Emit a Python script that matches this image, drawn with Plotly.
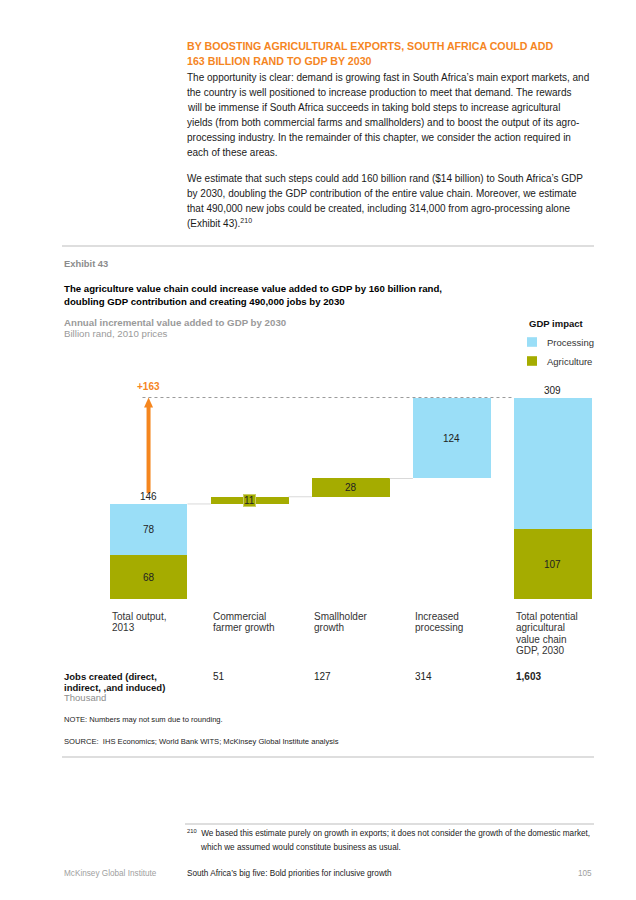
import plotly.graph_objects as go

# ---------------- data ----------------
categories = ["Total output,<br>2013", "Commercial<br>farmer growth", "Smallholder<br>growth",
              "Increased<br>processing", "Total potential<br>agricultural<br>value chain<br>GDP, 2030"]
agriculture = [68, 11, 28, 0]      # first four columns (start + increments)
processing = [78, 0, 0, 124]
jobs = ["", "51", "127", "314", "1,603"]
series_names = ["Processing", "Agriculture"]
legend_title = "GDP impact"

heading = ["BY BOOSTING AGRICULTURAL EXPORTS, SOUTH AFRICA COULD ADD",
           "163 BILLION RAND TO GDP BY 2030"]
body1 = ["The opportunity is clear: demand is growing fast in South Africa’s main export markets, and",
         "the country is well positioned to increase production to meet that demand. The rewards",
         "will be immense if South Africa succeeds in taking bold steps to increase agricultural",
         "yields (from both commercial farms and smallholders) and to boost the output of its agro-",
         "processing industry. In the remainder of this chapter, we consider the action required in",
         "each of these areas."]
body2 = ["We estimate that such steps could add 160 billion rand ($14 billion) to South Africa’s GDP",
         "by 2030, doubling the GDP contribution of the entire value chain. Moreover, we estimate",
         "that 490,000 new jobs could be created, including 314,000 from agro-processing alone",
         "(Exhibit 43).<sup>210</sup>"]
exhibit = "Exhibit 43"
title_lines = ["The agriculture value chain could increase value added to GDP by 160 billion rand,",
               "doubling GDP contribution and creating 490,000 jobs by 2030"]
subtitle = "Annual incremental value added to GDP by 2030"
unit = "Billion rand, 2010 prices"
jobs_label = ["Jobs created (direct,", "indirect, ,and induced)"]
jobs_unit = "Thousand"
note = "NOTE: Numbers may not sum due to rounding."
source = "SOURCE:  IHS Economics; World Bank WITS; McKinsey Global Institute analysis"
footnote = ["<sup>210</sup>  We based this estimate purely on growth in exports; it does not consider the growth of the domestic market,",
            "which we assumed would constitute business as usual."]
footer_left = "McKinsey Global Institute"
footer_mid = "South Africa’s big five: Bold priorities for inclusive growth"
footer_page = "105"

# ---------------- derived waterfall ----------------
start_total = agriculture[0] + processing[0]
end_agri = sum(agriculture)
end_proc = sum(processing)
end_total = end_agri + end_proc
uplift = end_total - start_total

agri_vals = agriculture + [end_agri]
proc_vals = processing + [end_proc]
agri_base, proc_base = [], []
level = 0
for i in range(4):
    if i == 0:
        agri_base.append(0)
        proc_base.append(agriculture[0])
        level = start_total
    else:
        agri_base.append(level)
        proc_base.append(level + agriculture[i])
        level += agriculture[i] + processing[i]
agri_base.append(0)
proc_base.append(end_agri)
steps = [start_total]
for i in range(1, 4):
    steps.append(steps[-1] + agriculture[i] + processing[i])

# page is drawn inside an 8px body margin
OFF = 8
W, H = 636 - OFF, 900 - OFF
def px(x, y):
    return (x - OFF) / W, 1 - (y - OFF) / H

AGRI = "#A5AC00"
PROC = "#9ADEF7"
ORANGE = "#F5861F"
GRAY = "#8C8C8C"
FONT = "Liberation Sans, Arial, sans-serif"
FS = 10
BW = 0.77

x = list(range(len(categories)))

def clean(vals):
    return [v if v else None for v in vals]

fig = go.Figure()
fig.add_trace(go.Bar(x=x, y=clean(proc_vals), base=proc_base, name=series_names[0],
                     marker=dict(color=PROC, line=dict(width=0)), width=BW,
                     hoverinfo="skip", showlegend=False))
fig.add_trace(go.Bar(x=x, y=clean(agri_vals), base=agri_base, name=series_names[1],
                     marker=dict(color=AGRI, line=dict(width=0)), width=BW,
                     hoverinfo="skip", showlegend=False))

y0_px, ytop_px, scale = 599.3, 375.0, 0.653
ymax = (y0_px - ytop_px) / scale

shapes = []
ann = []

# segment value labels (centred in each segment)
for vals, bases, hidden in [(proc_vals, proc_base, {4}), (agri_vals, agri_base, set())]:
    for i, (v, b) in enumerate(zip(vals, bases)):
        if not v or i in hidden:
            continue
        extra = {}
        if i == 1:   # thin commercial-growth bar: label sits in a small box
            extra = dict(bgcolor=AGRI, bordercolor="#C9CD66", borderwidth=1, borderpad=0)
        ann.append(dict(xref="x", yref="y", x=i, y=b + v / 2, showarrow=False, text=str(v),
                        font=dict(color="#222222", size=FS, family=FONT), **extra))

# connectors
for i in range(3):
    shapes.append(dict(type="line", xref="x", yref="y", x0=i + BW / 2, x1=i + 1 - BW / 2,
                       y0=steps[i], y1=steps[i], line=dict(color="#D9D9D9", width=1)))
# dotted reference line at end total
shapes.append(dict(type="line", xref="x", yref="y", x0=-0.06, x1=4 - BW / 2,
                   y0=end_total, y1=end_total, line=dict(color="#9A9A9A", width=1, dash="dot")))

# orange uplift arrow (shaft + head), anchored to the data values
head_h = 10 / scale           # arrow head height in data units (~10 px)
head_w = 4.5 / 101            # half width in category units (~4.5 px)
tail = start_total + 11 / scale
shapes.append(dict(type="line", xref="x", yref="y", x0=0, x1=0, y0=tail, y1=end_total - head_h + 1,
                   line=dict(color=ORANGE, width=4)))
shapes.append(dict(type="path", xref="x", yref="y",
                   path=f"M {-head_w},{end_total - head_h} L {head_w},{end_total - head_h} L 0,{end_total} Z",
                   fillcolor=ORANGE, line=dict(width=0)))
ann.append(dict(xref="x", yref="y", x=0, y=end_total, yanchor="bottom", yshift=4, showarrow=False,
                text=f"<b>+{uplift}</b>", font=dict(color=ORANGE, size=FS, family=FONT)))
ann.append(dict(xref="x", yref="y", x=0, y=start_total, yanchor="bottom", yshift=0, showarrow=False,
                text=str(start_total), font=dict(color="#222222", size=FS, family=FONT)))
ann.append(dict(xref="x", yref="y", x=4, y=end_total, yanchor="bottom", yshift=0, showarrow=False,
                text=str(end_total), font=dict(color="#222222", size=FS, family=FONT)))

# category labels (left aligned to bar edges)
for i, c in enumerate(categories):
    for k, line in enumerate(c.split("<br>")):
        ann.append(dict(xref="x", yref="paper", x=i - BW / 2, y=px(0, 616.5 + k * 11.3)[1],
                        xanchor="left", yanchor="middle", showarrow=False, text=line,
                        font=dict(color="#333333", size=FS, family=FONT)))

def text(xp, yp, t, size=FS, color="#222222", bold=False, anchor="left"):
    xx, yy = px(xp, yp)
    ann.append(dict(xref="paper", yref="paper", x=xx, y=yy, xanchor=anchor, yanchor="middle",
                    showarrow=False, text=(f"<b>{t}</b>" if bold else t),
                    font=dict(color=color, size=size, family=FONT)))

# jobs row
for k, line in enumerate(jobs_label):
    text(62, 676 + k * 11, line, size=9.5, color="#111111", bold=True)
text(62, 697.5, jobs_unit, size=9.5, color=GRAY)
for i, j in enumerate(jobs):
    if j:
        t = f"<b>{j}</b>" if i == len(jobs) - 1 else j
        ann.append(dict(xref="x", yref="paper", x=i - BW / 2, y=px(0, 676)[1], xanchor="left",
                        yanchor="middle", showarrow=False, text=t,
                        font=dict(color="#222222", size=FS, family=FONT)))

# legend (drawn manually to match the exhibit style)
text(527, 323, legend_title, size=9.5, color="#111111", bold=True)
for k, (nm, col) in enumerate(zip(series_names, [PROC, AGRI])):
    yc = 342 + k * 19
    xa, ya = px(527, yc - 4.8)
    xb, yb = px(537, yc + 4.8)
    shapes.append(dict(type="rect", xref="paper", yref="paper", x0=xa, x1=xb, y0=yb, y1=ya,
                       fillcolor=col, line=dict(width=0)))
    text(545, yc, nm, size=9.5, color="#333333")

# page header
for k, line in enumerate(heading):
    text(185, 46 + k * 15.2, line, size=10.65, color=ORANGE, bold=True)
for k, line in enumerate(body1):
    text(185, 77 + k * 15.1, line, size=10, color="#1A1A1A")
for k, line in enumerate(body2):
    text(185, 178 + k * 15.1, line, size=10, color="#1A1A1A")

# exhibit header
text(62, 264, exhibit, size=9.4, color=GRAY, bold=True)
for k, line in enumerate(title_lines):
    text(62, 288 + k * 13, line, size=9.65, color="#000000", bold=True)
text(62, 322, subtitle, size=9.7, color="#9A9A9A", bold=True)
text(62, 333, unit, size=9.7, color="#9A9A9A")

# notes
text(62, 719, note, size=7.6, color="#222222")
text(62, 741, source, size=7.6, color="#222222")

# footnote + footer
for k, line in enumerate(footnote):
    text(185 if k == 0 else 198, 833 + k * 14, line, size=8.2, color="#1A1A1A")
text(62, 873, footer_left, size=8.2, color="#A0A0A0")
text(185, 873, footer_mid, size=8.2, color="#1A1A1A")
text(594, 873, footer_page, size=8.2, color="#A0A0A0", anchor="right")

# divider lines
for (xa, xb, yl) in [(62, 594, 246), (62, 594, 757), (185, 594, 824)]:
    x0, y0 = px(xa, yl)
    x1, _ = px(xb, yl)
    shapes.append(dict(type="line", xref="paper", yref="paper", x0=x0, x1=x1, y0=y0, y1=y0,
                       line=dict(color="#BDBDBD", width=1.2)))

fig.update_layout(
    width=W, height=H, margin=dict(l=0, r=0, t=0, b=0),
    paper_bgcolor="white", plot_bgcolor="white",
    barmode="overlay", bargap=0,
    xaxis=dict(domain=[(98 - OFF) / W, (603.5 - OFF) / W], range=[-0.5, 4.5], visible=False, fixedrange=True),
    yaxis=dict(domain=[1 - (y0_px - OFF) / H, 1 - (ytop_px - OFF) / H], range=[0, ymax], visible=False,
               fixedrange=True),
    shapes=shapes, annotations=ann,
    showlegend=False,
    font=dict(family=FONT),
)

fig.write_html("out.html")
